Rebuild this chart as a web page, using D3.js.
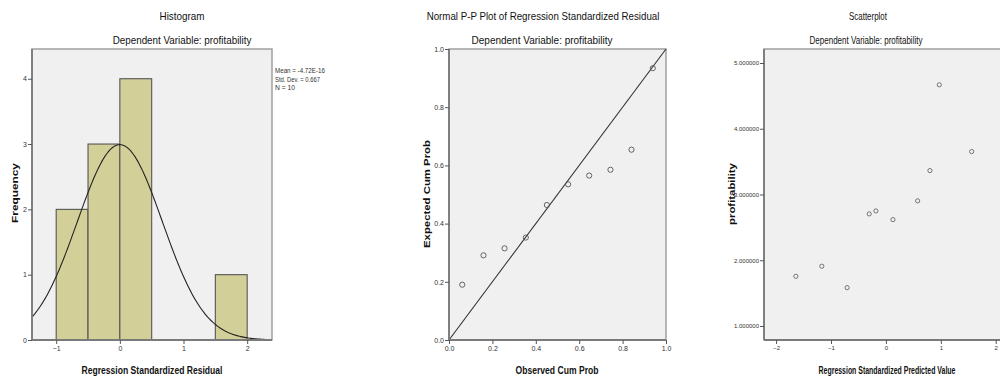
<!DOCTYPE html>
<html><head><meta charset="utf-8">
<script src="https://cdn.jsdelivr.net/npm/d3@7/dist/d3.min.js"></script>
<style>
body{margin:0;background:#fff;}
svg{display:block;}
.tick text{font-family:"Liberation Sans",Arial,sans-serif;fill:#333;}
</style></head>
<body>
<svg id="c" width="1000" height="378"></svg>
<script>
// ---------- Data ----------
// Histogram
const histBins = [-1, -0.5, 0, 1.5];           // bin starts
const histCounts = [2, 3, 4, 1];
const histBinWidth = 0.5;
const histStats = {mean: -4.72e-16, sd: 0.667, n: 10};
const histStatLabels = ["Mean = -4.72E-16", "Std. Dev. = 0.667", "N = 10"];
const histXTicks = [-1, 0, 1, 2];
const histYTicks = [0, 1, 2, 3, 4];

// P-P plot
const ppObserved = [0.061, 0.159, 0.256, 0.354, 0.451, 0.549, 0.646, 0.744, 0.841, 0.939];
const ppExpected = [0.190, 0.291, 0.315, 0.352, 0.464, 0.535, 0.565, 0.585, 0.654, 0.934];
const ppTicks = [0, 0.2, 0.4, 0.6, 0.8, 1.0];

// Scatterplot
const scPredicted = [-1.64, -1.167, -0.706, -0.304, -0.182, 0.128, 0.578, 0.972, 1.562, 0.802];
const scProfit    = [1.756, 1.909, 1.583, 2.705, 2.750, 2.618, 2.903, 4.668, 3.653, 3.364];
const scXTicks = [-2, -1, 0, 1, 2];
const scYTicks = [1, 2, 3, 4, 5];

const svg = d3.select("#c");
const FONT = '"Liberation Sans",Arial,sans-serif';

// text condensed horizontally to the reference's narrow face
function txt(g, x, y, t, o){
  const e = g.append("text").attr("x",0).attr("y",0).attr("text-anchor",o.anchor||"middle")
    .attr("font-family",FONT).attr("font-size",o.size).attr("fill",o.fill||"#111").text(t);
  if(o.bold) e.attr("font-weight","bold");
  let sx = 1;
  if(o.len){ const w = e.node().getComputedTextLength(); if(w>0) sx = o.len/w; }
  e.attr("transform",`translate(${x},${y})${o.rot?" rotate(-90)":""} scale(${sx},1)`);
  return e;
}
function frame(g, x0, y0, x1, y1){
  g.append("rect").attr("x",x0).attr("y",y0).attr("width",x1-x0).attr("height",y1-y0)
    .attr("fill","#f0f0f0").attr("stroke","#9a9a9a").attr("stroke-width",1.4);
}
function axes(g, x, y, x0, y0, x1, y1, xt, yt, xf, yf, fs){
  const ax = g.append("g").attr("transform",`translate(0,${y1})`)
    .call(d3.axisBottom(x).tickValues(xt).tickSize(4).tickPadding(2).tickFormat(xf));
  const ay = g.append("g").attr("transform",`translate(${x0},0)`)
    .call(d3.axisLeft(y).tickValues(yt).tickSize(4).tickPadding(1).tickFormat(yf));
  [ax, ay].forEach(a=>{
    a.select(".domain").attr("stroke","#7a7a7a").attr("stroke-width",1.8);
    a.selectAll(".tick line").attr("stroke","#555");
    a.selectAll(".tick text").attr("font-size",fs).attr("fill","#333");
  });
  ax.select(".domain").attr("d",`M${x0},0H${x1}`);
  ay.select(".domain").attr("d",`M0,${y0}V${y1}`);
  return [ax, ay];
}

// ---------- Histogram ----------
{
  const g = svg.append("g");
  const x0=32, x1=272, y0=49, y1=340;
  const x = d3.scaleLinear().domain([-1.38, 2.39]).range([x0, x1]);
  const y = d3.scaleLinear().domain([0, 4.455]).range([y1, y0]);
  frame(g, x0, y0, x1, y1);
  g.selectAll("rect.bar").data(histBins.map((b,i)=>({b, c:histCounts[i]}))).join("rect")
    .attr("class","bar")
    .attr("x", d=>x(d.b)).attr("width", d=>x(d.b+histBinWidth)-x(d.b))
    .attr("y", d=>y(d.c)).attr("height", d=>y(0)-y(d.c))
    .attr("fill","#d3cf98").attr("stroke","#555").attr("stroke-width",1.1);
  // fitted normal curve from the shown Mean / Std. Dev. / N
  const dom = x.domain();
  const pts = d3.range(dom[0], dom[1]+0.001, 0.02).map(v=>{
    const z=(v-histStats.mean)/histStats.sd;
    return [v, histStats.n*histBinWidth*Math.exp(-0.5*z*z)/(histStats.sd*Math.sqrt(2*Math.PI))];
  });
  g.append("path").datum(pts)
    .attr("d", d3.line().x(d=>x(d[0])).y(d=>y(d[1])))
    .attr("fill","none").attr("stroke","#222").attr("stroke-width",1.1);
  axes(g, x, y, x0, y0, x1, y1, histXTicks, histYTicks, d3.format("d"), d3.format("d"), 7);
  txt(g, 182, 20, "Histogram", {size:11, len:45});
  txt(g, 182, 44, "Dependent Variable: profitability", {size:11.5, len:139});
  txt(g, 152, 374, "Regression Standardized Residual", {size:11, bold:true, len:141});
  txt(g, 18, 193, "Frequency", {size:9, bold:true, len:60, rot:true});
  histStatLabels.forEach((t,i)=>{
    txt(g, 275, 73+i*8.6, t, {size:7.5, anchor:"start", fill:"#333", len:[50,45,20][i]});
  });
}

// ---------- P-P plot ----------
{
  const g = svg.append("g");
  const x0=449, x1=666, y0=49, y1=340;
  const x = d3.scaleLinear().domain([0,1]).range([x0,x1]);
  const y = d3.scaleLinear().domain([0,1]).range([y1,y0]);
  frame(g, x0, y0, x1, y1);
  g.append("line").attr("x1",x(0)).attr("y1",y(0)).attr("x2",x(1)).attr("y2",y(1))
    .attr("stroke","#333").attr("stroke-width",1.1);
  g.selectAll("circle").data(ppObserved.map((o,i)=>[o, ppExpected[i]])).join("circle")
    .attr("cx",d=>x(d[0])).attr("cy",d=>y(d[1])).attr("r",2.6)
    .attr("fill","none").attr("stroke","#555").attr("stroke-width",0.9);
  axes(g, x, y, x0, y0, x1, y1, ppTicks, ppTicks, d3.format(".1f"), d3.format(".1f"), 7);
  txt(g, 543, 20, "Normal P-P Plot of Regression Standardized Residual", {size:11, len:233});
  txt(g, 542, 44, "Dependent Variable: profitability", {size:11.5, len:141});
  txt(g, 557, 374, "Observed Cum Prob", {size:11, bold:true, len:83});
  txt(g, 430, 194, "Expected Cum Prob", {size:9, bold:true, len:108, rot:true});
}

// ---------- Scatterplot ----------
{
  const g = svg.append("g");
  const x0=764, x1=1010, y0=49, y1=340;
  const x = d3.scaleLinear().domain([-2.22, 2.26]).range([x0,x1]);
  const y = d3.scaleLinear().domain([0.787, 5.213]).range([y1,y0]);
  frame(g, x0, y0, x1, y1);
  g.selectAll("circle").data(scPredicted.map((p,i)=>[p, scProfit[i]])).join("circle")
    .attr("cx",d=>x(d[0])).attr("cy",d=>y(d[1])).attr("r",2.1)
    .attr("fill","none").attr("stroke","#666").attr("stroke-width",0.9);
  axes(g, x, y, x0, y0, x1, y1, scXTicks, scYTicks, d3.format("d"), d3.format(".6f"), 6);
  txt(g, 868, 20, "Scatterplot", {size:10.5, len:38});
  txt(g, 866, 44, "Dependent Variable: profitability", {size:10.5, len:113});
  txt(g, 887, 374, "Regression Standardized Predicted Value", {size:10.5, bold:true, len:137});
  txt(g, 735, 194, "profitability", {size:8.5, bold:true, len:62, rot:true});
}
</script>
</body></html>
